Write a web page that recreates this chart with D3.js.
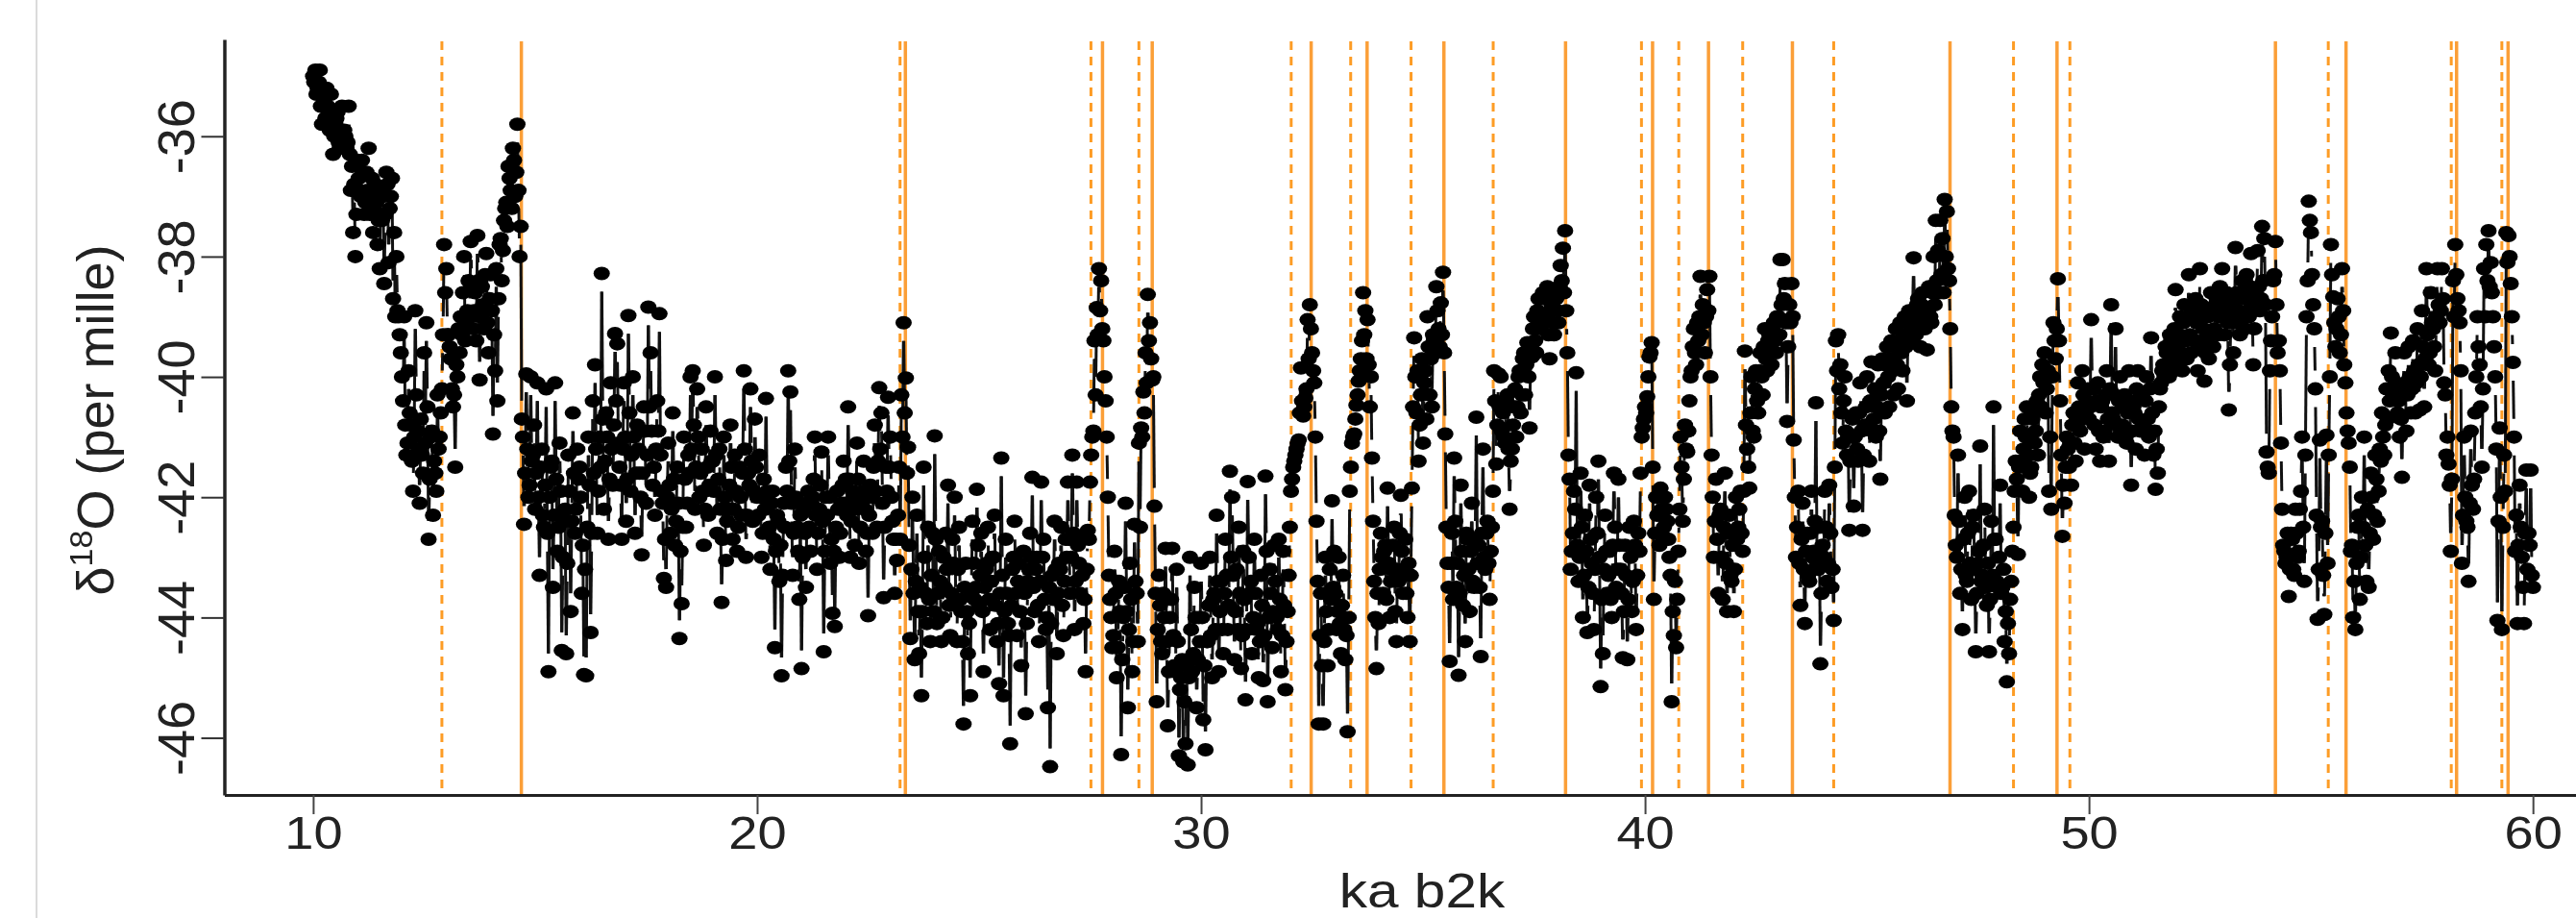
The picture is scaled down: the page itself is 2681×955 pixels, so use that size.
<!DOCTYPE html>
<html>
<head>
<meta charset="utf-8">
<title>d18O record</title>
<script src="https://cdn.jsdelivr.net/npm/d3@7"></script>
<style>
  html, body { margin: 0; padding: 0; background: #fff; overflow: hidden; }
  svg { filter: blur(0.6px); }
  text { font-family: "Liberation Sans", Arial, sans-serif; fill: #222; }
</style>
</head>
<body>
<svg id="chart" width="2681" height="955"></svg>
<script>
// d18O, one list per ka, samples every 50 years
var ka10 = [-35.0,-34.9,-35.2,-34.9,-35.8,-35.4,-35.2,-35.6,-35.3,-36.3,-35.8,-35.6,-36.2,-35.5,-35.9,-36.2,-35.5,-36.9,-37.6,-38.0];
var ka11 = [-36.4,-36.9,-36.4,-37.3,-36.6,-36.2,-37.0,-37.6,-36.8,-37.8,-38.2,-37.4,-38.45,-36.6,-38.1,-37.0,-38.7,-39.0,-38.9,-39.3];
var ka12 = [-40.0,-39.0,-41.3,-39.9,-40.8,-41.9,-38.9,-40.9,-42.1,-41.3,-39.6,-39.1,-42.7,-41.0,-42.3,-41.6,-40.3,-41.0,-40.2,-37.8];
var ka13 = [-38.2,-39.3,-39.7,-40.5,-41.5,-40.0,-39.6,-39.3,-38.0,-39.1,-38.4,-37.75,-39.2,-38.6,-37.65,-40.05,-38.5,-39.2,-37.95,-39.6];
var ka14 = [-38.3,-40.95,-39.9,-40.4,-37.8,-38.4,-37.4,-37.1,-36.5,-36.9,-36.2,-37.0,-35.8,-38.0,-40.7,-42.45,-39.95,-42.0,-40.0,-41.3];
var ka15 = [-42.2,-40.1,-43.3,-41.2,-42.5,-40.2,-44.9,-41.5,-43.5,-40.1,-42.9,-41.1,-44.55,-42.4,-44.6,-41.3,-43.9,-40.6,-42.6,-41.2];
var ka16 = [-41.5,-43.6,-44.95,-44.97,-41.0,-44.25,-40.4,-39.8,-42.6,-41.0,-38.28,-42.2,-40.6,-42.7,-40.1,-41.8,-39.28,-39.45,-41.5,-42.7];
var ka17 = [-40.1,-42.4,-38.98,-41.9,-40.0,-42.6,-40.8,-41.6,-42.96,-40.5,-42.1,-38.84,-39.6,-41.8,-42.3,-40.4,-38.95,-41.9,-43.35,-43.5];
var ka18 = [-41.1,-42.6,-40.6,-42.8,-41.5,-44.35,-43.77,-41.0,-42.5,-41.3,-40.0,-39.9,-42.2,-40.2,-42.0,-41.2,-42.8,-40.5,-42.3,-40.9];
var ka19 = [-41.4,-40.0,-42.6,-41.2,-43.75,-41.0,-43.05,-42.2,-40.8,-42.7,-41.3,-42.9,-41.5,-42.3,-39.9,-43.0,-41.6,-40.2,-42.4,-40.7];
var ka20 = [-42.0,-41.3,-43.0,-41.7,-40.36,-42.6,-43.2,-41.9,-44.5,-42.3,-43.4,-44.97,-42.1,-41.5,-39.9,-40.25,-43.3,-41.2,-42.5,-43.7];
var ka21 = [-44.85,-42.2,-43.5,-41.9,-42.9,-42.0,-41.0,-43.2,-42.2,-41.25,-44.57,-42.0,-41.0,-43.1,-43.93,-44.15,-41.9,-43.0,-42.1,-41.4];
var ka22 = [-41.7,-40.5,-43.0,-41.9,-42.8,-41.1,-43.1,-42.1,-41.4,-42.9,-43.97,-41.8,-42.6,-40.8,-42.5,-40.18,-40.6,-43.67,-41.5,-40.34];
var ka23 = [-41.0,-42.4,-43.6,-43.05,-41.5,-40.3,-39.1,-40.02,-41.17,-44.35,-42.0,-44.7,-42.3,-44.6,-45.3,-41.5,-43.6,-42.5,-44.4,-42.6];
var ka24 = [-40.98,-44.1,-42.9,-44.4,-43.0,-42.6,-41.8,-44.3,-42.7,-42.0,-44.4,-42.5,-43.9,-45.77,-43.1,-44.6,-45.3,-42.4,-43.7,-41.87];
var ka25 = [-43.8,-42.6,-44.9,-43.2,-42.5,-44.2,-43.0,-42.3,-44.4,-45.1,-41.35,-45.3,-42.7,-44.1,-46.1,-43.2,-42.4,-44.3,-43.1,-44.8];
var ka26 = [-42.9,-45.6,-43.4,-42.6,-41.67,-43.9,-43.0,-44.4,-41.75,-42.7,-44.2,-45.5,-46.48,-43.3,-42.4,-44.6,-43.1,-42.5,-44.3,-42.7];
var ka27 = [-41.75,-43.6,-41.3,-44.2,-41.75,-43.1,-42.7,-44.1,-44.9,-42.55,-41.75,-41.0,-39.4,-38.85,-38.2,-38.4,-39.4,-40.4,-42.0,-43.7];
var ka28 = [-44.5,-42.9,-45.0,-43.4,-46.28,-44.0,-42.1,-45.5,-43.1,-44.9,-42.45,-43.6,-41.1,-40.85,-40.25,-39.6,-38.63,-39.1,-40.05,-42.15];
var ka29 = [-45.4,-43.3,-44.4,-43.6,-42.85,-45.8,-44.0,-42.85,-44.8,-43.2,-46.3,-45.0,-46.4,-46.1,-46.45,-43.0,-44.9,-43.5,-45.5,-44.0];
var ka30 = [-43.1,-45.7,-46.2,-44.4,-43.0,-45.0,-43.6,-42.3,-44.9,-43.4,-44.6,-42.7,-44.2,-41.57,-42.0,-44.7,-43.2,-42.5,-44.85,-42.9];
var ka31 = [-45.37,-41.74,-43.6,-44.6,-42.7,-44.2,-45.0,-43.3,-45.05,-41.65,-45.4,-43.2,-44.5,-42.8,-44.0,-42.7,-44.9,-42.9,-45.2,-43.9];
var ka32 = [-42.5,-41.7,-41.4,-41.2,-41.05,-39.85,-40.65,-40.35,-39.05,-38.8,-39.6,-40.1,-42.4,-45.77,-43.6,-45.77,-43.0,-44.8,-43.2,-42.06];
var ka33 = [-42.9,-44.2,-43.0,-44.6,-43.3,-44.7,-45.9,-41.9,-41.1,-40.95,-40.47,-40.07,-39.7,-38.6,-38.9,-39.05,-40.5,-41.35,-43.4,-44.85];
var ka34 = [-44.1,-42.6,-43.6,-42.8,-41.85,-44.0,-43.2,-42.5,-44.4,-43.4,-41.97,-43.6,-42.7,-44.0,-44.4,-41.85,-39.35,-40.6,-41.4,-40.3];
var ka35 = [-41.1,-39.9,-39.0,-40.3,-40.5,-39.4,-38.5,-39.2,-38.77,-38.26,-40.95,-43.1,-44.73,-42.6,-41.35,-43.5,-44.96,-41.8,-43.8,-44.4];
var ka36 = [-42.7,-43.9,-42.1,-43.5,-40.67,-42.8,-44.65,-41.2,-43.2,-42.4,-43.7,-42.5,-39.9,-41.45,-39.95,-40.0,-40.6,-41.1,-40.3,-42.2];
var ka37 = [-41.2,-40.5,-41.0,-40.0,-40.6,-39.7,-40.3,-39.43,-40.85,-39.67,-39.0,-39.6,-38.7,-39.2,-38.6,-39.0,-38.5,-39.7,-38.8,-39.3];
var ka38 = [-38.7,-39.1,-38.15,-37.86,-37.57,-39.6,-41.7,-42.9,-41.9,-39.93,-43.4,-41.6,-44.0,-42.3,-44.25,-41.8,-43.1,-44.2,-42.0,-41.4];
var ka39 = [-45.15,-44.6,-42.3,-43.6,-42.9,-44.0,-41.6,-43.5,-41.7,-43.2,-44.67,-42.8,-44.7,-42.5,-43.9,-42.4,-44.2,-42.6,-41.6,-40.85];
var ka40 = [-40.5,-40.33,-39.67,-39.43,-43.7,-42.0,-42.6,-41.85,-42.65,-42.0,-42.4,-43.0,-45.4,-44.3,-44.5,-42.9,-41.0,-42.4,-40.8,-41.25];
var ka41 = [-40.4,-39.9,-39.2,-39.8,-39.4,-38.33,-38.8,-39.6,-38.55,-38.33,-41.3,-43.0,-41.7,-43.6,-42.2,-43.7,-41.6,-43.9,-42.3,-43.4];
var ka42 = [-43.9,-42.0,-42.5,-41.9,-42.9,-39.57,-41.2,-41.85,-40.0,-41.0,-39.9,-40.6,-39.6,-40.3,-39.2,-39.9,-39.3,-39.8,-39.1,-39.6];
var ka43 = [-39.0,-38.05,-38.05,-38.45,-40.74,-38.8,-38.45,-41.05,-43.0,-41.9,-43.8,-42.1,-44.1,-42.6,-43.4,-41.9,-42.9,-40.43,-43.2,-44.77];
var ka44 = [-42.8,-41.9,-43.4,-41.8,-43.5,-44.05,-39.4,-39.3,-39.8,-41.1,-40.0,-41.3,-42.55,-41.0,-42.15,-40.6,-41.4,-40.1,-42.55,-40.8];
var ka45 = [-40.0,-41.4,-39.75,-40.7,-41.0,-39.8,-41.7,-39.7,-40.6,-39.5,-40.5,-39.4,-40.3,-39.2,-40.2,-39.1,-39.9,-39.0,-40.4,-38.9];
var ka46 = [-39.4,-38.02,-39.3,-38.7,-39.5,-38.6,-39.2,-39.55,-38.5,-39.1,-38.0,-37.4,-37.9,-37.4,-37.7,-37.05,-37.25,-38.4,-40.5,-41.0];
var ka47 = [-42.8,-41.3,-43.6,-44.2,-42.0,-43.4,-41.9,-43.7,-42.3,-44.57,-43.1,-41.15,-43.3,-42.2,-43.8,-44.57,-42.4,-40.5,-42.7,-43.5];
var ka48 = [-41.8,-43.5,-44.4,-45.07,-44.6,-43.4,-42.5,-41.4,-42.95,-40.9,-41.9,-40.7,-40.5,-42.0,-41.5,-40.6,-40.9,-41.3,-40.0,-39.8];
var ka49 = [-39.6,-40.2,-41.9,-42.2,-39.1,-39.7,-38.37,-40.4,-42.65,-42.1,-41.0,-41.5,-41.8,-40.6,-41.4,-40.1,-40.9,-39.9,-41.2,-40.4];
var ka50 = [-40.7,-39.05,-40.2,-41.2,-40.1,-41.4,-40.4,-40.9,-39.9,-41.4,-38.8,-40.7,-39.2,-41.0,-40.0,-40.8,-40.3,-41.1,-39.9,-41.8];
var ka51 = [-40.5,-41.2,-39.9,-40.9,-40.3,-41.3,-40.0,-41.0,-39.35,-41.3,-41.87,-41.6,-40.2,-39.9,-40.0,-39.6,-40.0,-39.4,-39.9,-38.55];
var ka52 = [-39.8,-39.0,-39.9,-38.8,-39.7,-38.3,-39.6,-39.0,-38.7,-39.9,-38.2,-39.4,-40.07,-38.9,-39.7,-38.6,-39.5,-38.8,-39.3,-38.5];
var ka53 = [-38.2,-39.3,-38.6,-40.55,-38.9,-39.6,-37.85,-38.7,-39.3,-38.4,-39.2,-38.3,-39.0,-37.95,-39.8,-38.6,-37.9,-38.9,-37.5,-37.7];
var ka54 = [-41.25,-41.6,-39.4,-38.4,-37.75,-39.6,-39.9,-42.2,-42.9,-43.0,-43.65,-42.6,-43.2,-42.2,-43.0,-42.2,-41.0,-43.4,-39.0,-37.08];
var ka55 = [-37.6,-38.8,-40.2,-44.03,-41.05,-42.4,-43.95,-40.97,-41.3,-37.8,-38.67,-39.5,-38.7,-39.6,-38.2,-39.8,-40.6,-41.1,-42.9,-44.0];
var ka56 = [-44.2,-42.5,-43.7,-42.0,-41.0,-43.4,-43.5,-41.6,-42.7,-41.3,-42.4,-41.2,-40.6,-41.3,-40.2,-39.9,-39.27,-40.3,-39.6,-40.6];
var ka57 = [-41.0,-41.67,-39.6,-40.9,-39.5,-40.6,-39.4,-40.6,-39.2,-40.55,-38.9,-40.5,-38.2,-39.8,-38.6,-39.2,-39.9,-38.2,-39.1,-38.2];
var ka58 = [-40.1,-41.3,-41.45,-42.9,-38.4,-37.8,-38.7,-39.1,-43.1,-41.0,-42.4,-43.4,-40.9,-42.2,-40.6,-39.0,-39.8,-41.5,-38.2,-37.8];
var ka59 = [-37.57,-38.1,-39.0,-40.0,-44.05,-40.85,-44.2,-41.3,-37.6,-37.65,-38.45,-39.76,-42.9,-44.1,-41.8,-43.0,-44.1,-41.55,-42.6,-41.55];
var ka60 = [-43.5];

// the dense body between those samples, sitting 25 years after each
var mid10 = [-35.1,-35.3,-35.1,-35.5,-35.3,-35.7,-35.5,-35.9,-35.6,-36.0,-35.7,-36.1,-35.9,-36.2,-36.0,-36.1,-36.3,-36.5,-36.8,-37.3];
var mid11 = [-36.7,-37.0,-36.6,-37.1,-36.9,-37.3,-36.7,-37.2,-37.1,-37.4,-36.9,-37.0,-37.3,-36.8,-37.2,-36.7,-37.6,-38.0,-39.0,-39.6];
var mid12 = [-40.4,-40.8,-41.1,-40.6,-41.4,-41.0,-40.3,-41.2,-40.7,-41.6,-41.1,-40.5,-41.7,-40.9,-41.4,-41.9,-41.2,-40.6,-39.3,-38.6];
var mid13 = [-39.3,-39.5,-40.2,-40.3,-39.8,-39.2,-39.0,-38.6,-39.4,-38.9,-39.0,-38.5,-38.9,-39.4,-38.4,-39.0,-38.8,-38.3,-39.1,-38.7];
var mid14 = [-38.9,-39.3,-38.2,-38.7,-37.7,-37.9,-37.2,-37.5,-36.7,-37.2,-36.4,-36.6,-36.9,-37.5,-41.0,-41.6,-41.2,-41.8,-41.4,-40.8];
var mid15 = [-41.6,-42.0,-41.5,-42.3,-41.8,-42.6,-42.0,-41.4,-42.3,-41.7,-42.5,-41.9,-43.0,-42.2,-43.1,-41.9,-42.4,-41.6,-42.2,-41.7];
var mid16 = [-42.0,-42.8,-43.2,-42.5,-41.8,-42.6,-41.6,-41.2,-41.9,-41.5,-40.7,-41.4,-41.0,-41.7,-41.2,-40.8,-40.4,-41.1,-41.8,-41.2];
var mid17 = [-41.0,-41.7,-40.6,-41.3,-41.0,-41.6,-41.2,-42.0,-41.6,-40.9,-41.3,-40.5,-40.9,-41.5,-41.2,-40.9,-41.3,-42.1,-42.7,-42.0];
var mid18 = [-41.8,-42.2,-41.7,-42.4,-42.1,-42.9,-42.5,-41.7,-42.1,-41.6,-41.2,-40.8,-41.5,-41.0,-41.6,-41.9,-42.2,-41.5,-41.8,-41.4];
var mid19 = [-41.9,-41.3,-41.7,-42.2,-42.7,-42.0,-42.4,-41.8,-41.5,-42.2,-41.9,-42.5,-42.0,-41.6,-41.2,-42.3,-41.8,-41.4,-41.9,-41.5];
var mid20 = [-42.3,-42.0,-42.6,-42.2,-41.9,-42.5,-42.1,-42.7,-42.9,-42.4,-42.8,-43.3,-42.5,-41.9,-41.4,-42.1,-42.6,-42.0,-42.9,-42.3];
var mid21 = [-43.0,-42.6,-42.1,-42.5,-42.1,-41.7,-42.3,-42.6,-41.8,-42.4,-42.9,-42.3,-42.0,-42.7,-42.9,-42.5,-42.2,-42.6,-41.8,-42.1];
var mid22 = [-42.3,-41.7,-42.4,-42.0,-42.2,-41.7,-42.5,-41.9,-42.2,-42.6,-42.3,-42.0,-41.5,-41.9,-41.4,-41.2,-42.1,-42.5,-41.9,-41.5];
var mid23 = [-42.0,-42.7,-42.7,-42.3,-42.7,-41.0,-40.6,-41.6,-42.8,-43.2,-43.6,-43.4,-43.9,-43.5,-43.9,-43.0,-44.1,-43.7,-43.3,-43.9];
var mid24 = [-42.7,-43.6,-43.4,-44.0,-43.5,-43.2,-43.8,-43.6,-43.1,-43.8,-43.2,-43.7,-44.4,-43.5,-43.9,-44.1,-43.6,-43.1,-43.5,-42.8];
var mid25 = [-43.3,-43.9,-43.5,-43.1,-43.7,-43.4,-43.0,-43.8,-44.1,-43.6,-43.3,-43.9,-43.6,-44.3,-43.8,-43.0,-43.6,-43.4,-43.9,-43.5];
var mid26 = [-43.6,-44.1,-43.2,-43.0,-43.5,-43.2,-43.8,-43.4,-43.0,-43.7,-44.0,-43.5,-44.1,-43.7,-43.2,-43.6,-43.2,-43.8,-43.4,-43.0];
var mid27 = [-42.7,-43.0,-42.6,-43.4,-42.8,-43.6,-43.3,-43.7,-43.2,-42.7,-41.3,-40.9,-40.3,-39.3,-38.9,-39.2,-40.0,-41.0,-43.3,-44.0];
var mid28 = [-44.3,-43.6,-44.5,-43.9,-44.7,-43.5,-43.9,-44.2,-43.7,-44.4,-43.4,-44.4,-42.5,-41.0,-40.6,-40.1,-39.4,-39.7,-40.0,-43.6];
var mid29 = [-44.2,-43.8,-44.6,-44.0,-44.4,-44.9,-43.7,-44.3,-44.9,-44.4,-45.2,-44.7,-45.4,-44.8,-45.0,-44.2,-44.6,-44.0,-44.7,-44.4];
var mid30 = [-44.0,-44.8,-44.4,-43.8,-44.3,-43.7,-44.2,-43.4,-43.9,-44.2,-43.6,-43.3,-43.8,-43.0,-43.3,-43.9,-44.2,-43.6,-44.3,-43.7];
var mid31 = [-44.2,-43.0,-43.4,-44.0,-43.6,-44.1,-44.4,-43.8,-44.3,-42.9,-44.0,-43.6,-43.9,-43.4,-44.2,-43.7,-44.3,-43.8,-44.4,-43.3];
var mid32 = [-41.9,-41.5,-41.3,-41.1,-40.6,-40.4,-40.5,-40.2,-39.7,-39.2,-39.9,-41.0,-43.4,-44.3,-44.8,-44.4,-43.9,-44.2,-43.7,-43.5];
var mid33 = [-43.6,-43.9,-44.1,-43.8,-44.2,-44.3,-44.0,-41.5,-41.0,-40.7,-40.3,-39.9,-39.4,-39.3,-39.7,-39.8,-40.0,-42.4,-44.0,-43.6];
var mid34 = [-43.2,-43.0,-42.9,-43.7,-43.1,-43.4,-42.8,-43.9,-43.2,-42.6,-42.9,-43.3,-43.6,-43.1,-43.3,-40.5,-40.0,-39.9,-40.8,-39.7];
var mid35 = [-40.1,-40.7,-39.5,-39.7,-39.3,-39.6,-38.9,-39.5,-39.3,-39.6,-42.5,-43.5,-43.1,-43.7,-42.4,-43.1,-43.6,-42.9,-43.3,-42.6];
var mid36 = [-43.2,-42.9,-43.4,-42.7,-43.1,-43.5,-42.6,-43.0,-42.6,-43.1,-42.9,-41.9,-40.4,-40.8,-40.5,-40.9,-41.0,-40.4,-41.2,-41.4];
var mid37 = [-40.8,-40.2,-40.5,-39.9,-40.3,-39.6,-39.8,-40.0,-39.5,-39.2,-39.4,-38.9,-39.1,-38.7,-39.1,-38.7,-39.3,-38.9,-39.1,-38.6];
var mid38 = [-38.9,-38.5,-38.4,-38.6,-38.9,-41.3,-43.2,-42.6,-42.2,-42.8,-43.0,-42.5,-43.3,-42.9,-43.5,-42.7,-43.6,-43.2,-42.6,-43.0];
var mid39 = [-43.7,-43.2,-42.9,-43.3,-43.7,-42.8,-42.5,-43.2,-42.8,-43.6,-43.9,-43.3,-43.7,-43.0,-43.4,-42.8,-43.3,-42.9,-41.0,-40.7];
var mid40 = [-40.6,-40.0,-39.6,-41.5,-42.6,-42.3,-42.8,-42.2,-42.5,-42.2,-42.7,-43.3,-43.9,-43.4,-43.7,-42.2,-41.5,-41.7,-41.2,-40.9];
var mid41 = [-40.0,-39.5,-39.6,-39.1,-39.0,-39.3,-39.1,-39.0,-38.9,-40.0,-42.0,-42.4,-42.7,-42.3,-43.0,-42.5,-43.1,-42.6,-43.3,-42.8];
var mid42 = [-43.2,-42.7,-42.2,-42.6,-41.9,-40.8,-41.5,-40.6,-40.9,-40.2,-40.4,-39.9,-40.0,-39.5,-39.7,-39.4,-39.6,-39.2,-39.4,-39.0];
var mid43 = [-39.3,-38.8,-38.7,-39.1,-39.5,-39.1,-39.0,-42.0,-42.5,-43.1,-42.7,-43.2,-42.9,-43.3,-42.6,-43.0,-42.4,-43.1,-42.5,-43.6];
var mid44 = [-43.0,-42.5,-43.1,-42.6,-43.2,-41.5,-39.9,-40.2,-40.6,-40.4,-40.9,-41.0,-41.4,-40.7,-41.0,-41.2,-40.6,-40.9,-41.3,-40.5];
var mid45 = [-40.8,-40.4,-40.9,-40.2,-40.5,-40.9,-40.3,-40.1,-39.8,-40.0,-39.7,-39.9,-39.5,-39.8,-39.4,-39.6,-39.3,-39.5,-39.1,-39.4];
var mid46 = [-39.0,-39.2,-38.8,-39.0,-38.8,-39.1,-38.9,-38.9,-39.0,-38.6,-38.8,-38.4,-38.6,-38.3,-38.6,-38.0,-38.2,-39.2,-40.9,-42.3];
var mid47 = [-43.0,-42.4,-43.2,-42.7,-43.3,-42.6,-43.1,-42.5,-43.2,-43.6,-42.9,-43.4,-42.8,-43.5,-43.1,-43.7,-43.3,-42.7,-43.4,-43.0];
var mid48 = [-43.6,-43.2,-43.9,-44.1,-43.7,-42.9,-41.9,-41.7,-41.5,-41.4,-41.2,-41.0,-41.3,-41.6,-40.7,-41.1,-40.4,-40.3,-40.5,-40.1];
var mid49 = [-40.6,-39.9,-41.0,-40.0,-39.4,-39.2,-39.4,-41.3,-41.8,-41.5,-41.2,-41.1,-40.8,-41.1,-40.7,-40.5,-40.7,-40.3,-40.6,-40.2];
var mid50 = [-40.5,-40.2,-40.8,-40.4,-40.9,-40.5,-41.0,-40.3,-40.7,-40.2,-40.6,-40.3,-40.8,-40.4,-40.9,-40.5,-41.0,-40.6,-40.4,-40.9];
var mid51 = [-40.6,-40.2,-40.7,-40.3,-40.8,-40.4,-40.7,-40.2,-40.6,-40.9,-41.2,-40.5,-40.1,-39.8,-39.5,-39.9,-39.3,-39.7,-39.2,-39.5];
var mid52 = [-39.3,-39.6,-39.1,-39.4,-39.0,-39.3,-38.9,-39.4,-39.1,-39.5,-38.8,-39.2,-39.6,-39.0,-39.3,-38.9,-39.2,-38.7,-39.0,-38.9];
var mid53 = [-39.0,-38.7,-39.1,-39.8,-38.8,-39.1,-38.6,-38.9,-38.6,-39.0,-38.7,-38.9,-38.5,-38.8,-39.2,-38.8,-38.5,-38.7,-38.4,-38.8];
var mid54 = [-41.5,-39.9,-39.0,-38.3,-38.8,-39.4,-41.1,-42.8,-43.1,-42.6,-43.2,-42.7,-43.3,-42.6,-42.9,-41.9,-42.5,-41.3,-38.4,-37.4];
var mid55 = [-38.3,-39.2,-42.3,-43.2,-42.5,-43.3,-42.6,-43.1,-40.0,-38.3,-39.1,-39.2,-39.0,-39.3,-38.9,-40.1,-40.9,-41.5,-42.8,-43.4];
var mid56 = [-43.1,-42.3,-43.0,-42.5,-42.8,-42.2,-42.6,-42.0,-42.3,-41.7,-41.9,-41.4,-41.0,-40.8,-40.7,-40.4,-40.0,-40.2,-40.1,-40.4];
var mid57 = [-40.7,-40.3,-40.1,-40.3,-40.0,-40.2,-39.9,-40.1,-39.8,-40.0,-39.5,-39.7,-39.3,-39.6,-39.1,-39.5,-39.0,-38.8,-38.9,-38.7];
var mid58 = [-40.3,-41.0,-41.8,-41.7,-39.0,-38.3,-38.9,-39.9,-42.3,-42.0,-42.5,-42.1,-41.8,-41.7,-40.0,-39.5,-40.5,-40.2,-39.0,-38.4];
var mid59 = [-38.5,-38.6,-39.5,-41.2,-42.4,-42.0,-42.5,-41.9,-38.1,-38.0,-39.0,-41.0,-42.3,-42.8,-42.5,-43.5,-42.6,-43.2,-42.8,-43.3];

var kaRows = [ka10,ka11,ka12,ka13,ka14,ka15,ka16,ka17,ka18,ka19,ka20,ka21,ka22,ka23,ka24,ka25,ka26,ka27,ka28,ka29,
              ka30,ka31,ka32,ka33,ka34,ka35,ka36,ka37,ka38,ka39,ka40,ka41,ka42,ka43,ka44,ka45,ka46,ka47,ka48,ka49,
              ka50,ka51,ka52,ka53,ka54,ka55,ka56,ka57,ka58,ka59,ka60];
var midRows = [mid10,mid11,mid12,mid13,mid14,mid15,mid16,mid17,mid18,mid19,mid20,mid21,mid22,mid23,mid24,mid25,mid26,mid27,mid28,mid29,
               mid30,mid31,mid32,mid33,mid34,mid35,mid36,mid37,mid38,mid39,mid40,mid41,mid42,mid43,mid44,mid45,mid46,mid47,mid48,mid49,
               mid50,mid51,mid52,mid53,mid54,mid55,mid56,mid57,mid58,mid59];

var solidLines = [14.69,23.34,27.78,28.9,32.48,33.74,35.47,38.21,40.17,41.43,43.32,46.87,49.28,54.2,55.79,58.28,59.44];
var dashedLines = [12.9,23.22,27.52,28.6,32.03,33.37,34.73,36.58,39.92,40.76,42.2,44.25,48.3,49.57,55.39,58.16,59.3];

var xTicks = [10,20,30,40,50,60];
var yTicks = [-36,-38,-40,-42,-44,-46];

var svg = d3.select("#chart"),
    plotLeft = 233.5, plotRight = 2681, plotTop = 41, plotBottom = 827;

// page edge rule on the left of the reference
svg.append("line")
    .attr("x1", 38).attr("x2", 38).attr("y1", 0).attr("y2", 955)
    .attr("stroke", "#cfcfcf").attr("stroke-width", 1.5);

var x = d3.scaleLinear().domain([8, 60.97]).range([plotLeft, plotRight]);
var y = d3.scaleLinear().domain([-46.95, -34.39]).range([plotBottom, plotTop]);

// flatten rows into one age-ordered series
var samples = [];
kaRows.forEach(function(row, r) {
    row.forEach(function(v, i) {
        samples.push({age: 10 + r + i * 0.05, value: v});
    });
});
midRows.forEach(function(row, r) {
    row.forEach(function(v, i) {
        samples.push({age: 10 + r + 0.025 + i * 0.05, value: v});
    });
});
samples.sort(function(a, b) { return a.age - b.age; });

// orange event lines
svg.append("g").selectAll("line")
    .data(solidLines).enter().append("line")
    .attr("x1", function(d) { return x(d); }).attr("x2", function(d) { return x(d); })
    .attr("y1", plotTop + 2).attr("y2", plotBottom)
    .attr("stroke", "#fb9f38").attr("stroke-width", 3.5);

svg.append("g").selectAll("line")
    .data(dashedLines).enter().append("line")
    .attr("x1", function(d) { return x(d); }).attr("x2", function(d) { return x(d); })
    .attr("y1", plotTop + 2).attr("y2", plotBottom)
    .attr("stroke", "#fd9c25").attr("stroke-width", 3)
    .attr("stroke-dasharray", "9,7");

// R type="b": segments stop short of the points
var gap = 19;
var links = d3.pairs(samples).map(function(p) {
    var x0 = x(p[0].age), y0 = y(p[0].value), x1 = x(p[1].age), y1 = y(p[1].value);
    var len = Math.hypot(x1 - x0, y1 - y0);
    if (len <= gap * 2) return null;
    var ux = (x1 - x0) / len, uy = (y1 - y0) / len;
    return {x1: x0 + ux * gap, y1: y0 + uy * gap, x2: x1 - ux * gap, y2: y1 - uy * gap};
}).filter(Boolean);

svg.append("g").selectAll("line")
    .data(links).enter().append("line")
    .attr("x1", function(d) { return d.x1; }).attr("y1", function(d) { return d.y1; })
    .attr("x2", function(d) { return d.x2; }).attr("y2", function(d) { return d.y2; })
    .attr("stroke", "#111").attr("stroke-width", 3);

svg.append("g").selectAll("ellipse")
    .data(samples).enter().append("ellipse")
    .attr("cx", function(d) { return x(d.age); })
    .attr("cy", function(d) { return y(d.value); })
    .attr("rx", 8.5).attr("ry", 7)
    .attr("fill", "#000");

// x axis
var xAxis = svg.append("g")
    .attr("transform", "translate(0," + plotBottom + ")")
    .call(d3.axisBottom(x).tickValues(xTicks).tickSize(20).tickSizeOuter(0));
xAxis.select(".domain").attr("stroke", "#222").attr("stroke-width", 3);
xAxis.selectAll(".tick line").attr("stroke", "#444").attr("stroke-width", 2);
xAxis.selectAll(".tick text")
    .attr("font-size", 48).attr("fill", "#222")
    .attr("dy", null).attr("y", 56)
    .attr("text-anchor", "middle")
    .attr("transform", "scale(1.13,1)");

// y axis, tick labels turned along the axis
var yAxis = svg.append("g")
    .attr("transform", "translate(" + plotLeft + ",0)")
    .call(d3.axisLeft(y).tickValues(yTicks).tickSize(24).tickSizeOuter(0).tickFormat(function(d) { return "-" + Math.abs(d); }));
yAxis.select(".domain").attr("stroke", "#222").attr("stroke-width", 3.5);
yAxis.selectAll(".tick line").attr("stroke", "#333").attr("stroke-width", 2);
yAxis.selectAll(".tick text")
    .attr("font-size", 54).attr("fill", "#222")
    .attr("x", null).attr("dy", null)
    .attr("text-anchor", "middle")
    .attr("transform", "translate(-32,0) rotate(-90)");

// axis titles
var yTitle = svg.append("text")
    .attr("transform", "translate(118,437) rotate(-90)")
    .attr("text-anchor", "middle")
    .attr("font-size", 54);
yTitle.append("tspan").text("δ");
yTitle.append("tspan").attr("dy", -22).attr("font-size", 34).text("18");
yTitle.append("tspan").attr("dy", 22).text("O (per mille)");

svg.append("text")
    .attr("transform", "translate(1480,944) scale(1.17,1)")
    .attr("text-anchor", "middle")
    .attr("font-size", 50)
    .text("ka b2k");
</script>
</body>
</html>
